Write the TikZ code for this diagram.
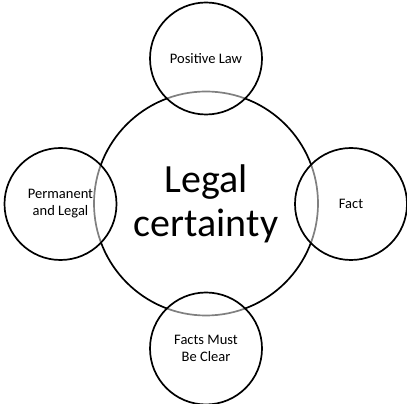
\documentclass[tikz,border=0pt]{standalone}
\usepackage{fontspec}
\setmainfont{Carlito}
\begin{document}
\begin{tikzpicture}[x=1pt,y=1pt,
  bigc/.style={circle,draw=black,line width=1.7pt,minimum size=224pt,inner sep=0pt,align=center,font=\fontsize{40}{44}\selectfont},
  satc/.style={circle,draw=black,line width=1.7pt,fill=white,fill opacity=0.5,draw opacity=1,text opacity=1,minimum size=112pt,inner sep=0pt,align=center,font=\fontsize{14.5}{17}\selectfont}]
\useasboundingbox (0,0) rectangle (407,404);
\node[bigc] (c) at (206,200.5) {Legal\\certainty};
\node[satc] (t) at (206,345.5) {Positive Law};
\node[satc] (l) at (60.5,200) {Permanent\\and Legal};
\node[satc] (r) at (351,200) {Fact};
\node[satc] (b) at (206,55.5) {Facts Must\\Be Clear};
\end{tikzpicture}
\end{document}
